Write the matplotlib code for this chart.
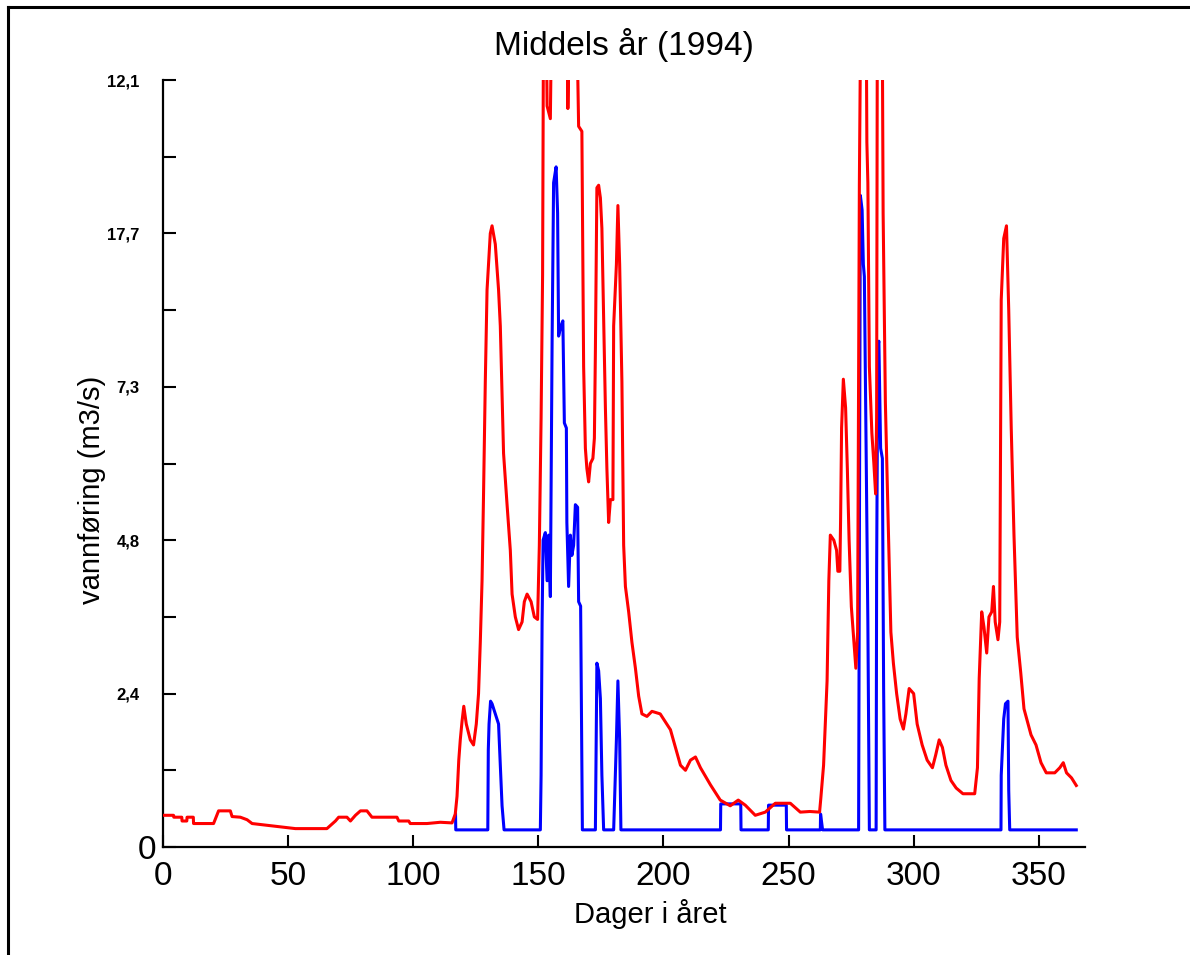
import matplotlib
matplotlib.use("Agg")
import matplotlib.pyplot as plt
from matplotlib import font_manager
from matplotlib.lines import Line2D
from matplotlib.transforms import ScaledTranslation

# daily discharge (m3/s)
red_days = [0, 4.2, 4.3, 7.5, 7.6, 9.5, 9.6, 12.1, 12.2, 20.2, 21.0, 22.2, 26.9, 27.6, 30.9, 33.6, 35.6,
            44.2, 52.9, 65.5, 68.9, 70.2, 73.5, 74.9, 76.9, 78.9, 81.5, 82.9, 83.5, 93.5, 94.2, 98.2,
            98.8, 105.5, 110.8, 115.5, 116.8, 117.5, 118.2, 118.8, 119.5, 120.2, 121.2, 122.8, 124.1,
            125.2, 126.1, 126.8, 127.5, 128.1, 128.8, 129.5, 130.1, 130.8, 131.5, 132.8, 134.1, 134.8,
            136.1, 137.5, 138.8, 139.5, 140.8, 142.1, 143.5, 144.4, 145.5, 147.1, 148.4, 149.7, 150.4,
            151.1, 151.7, 152.1, 153.2, 153.5, 154.8, 155.5, 158.0, 161.4, 161.8, 162.8, 165.4, 166.1,
            167.4, 168.1, 168.8, 169.4, 170.1, 170.8, 171.8, 172.4, 172.8, 173.4, 174.1, 174.8, 175.4,
            176.1, 176.8, 177.4, 178.1, 178.8, 179.8, 180.1, 181.2, 181.8, 182.5, 183.4, 184.1, 184.8,
            186.1, 187.4, 188.8, 190.1, 191.4, 193.4, 195.4, 198.7, 202.8, 206.8, 208.8, 210.8, 212.8,
            214.8, 218.8, 222.7, 226.7, 229.9, 232.7, 236.7, 240.7, 244.7, 250.7, 254.7, 258.5, 262.4,
            262.9, 264.0, 265.4, 266.1, 266.7, 268.1, 269.2, 269.7, 270.5, 270.8, 271.2, 271.9, 272.8,
            273.5, 274.2, 275.1, 276.0, 276.9, 277.6, 278.3, 279.0, 281.0, 281.3, 281.7, 282.3, 283.3,
            284.1, 284.8, 285.2, 285.5, 287.4, 287.8, 288.7, 289.8, 290.9, 291.9, 293.2, 294.6, 295.9,
            296.9, 298.2, 300.0, 301.4, 303.4, 305.4, 307.5, 308.8, 310.2, 311.5, 312.9, 314.9, 317.0,
            319.7, 324.4, 325.5, 326.2, 327.2, 328.1, 329.2, 330.1, 331.2, 331.9, 332.6, 333.7, 334.4,
            335.0, 336.0, 337.1, 338.0, 339.0, 340.1, 341.4, 342.8, 344.1, 346.9, 348.9, 350.9, 353.0,
            356.4, 358.4, 359.8, 361.1, 363.1, 365.0]
red_flow = [0.50, 0.50, 0.47, 0.47, 0.41, 0.41, 0.47, 0.47, 0.37, 0.37, 0.45, 0.57, 0.57, 0.48, 0.47, 0.43, 0.37,
            0.33, 0.29, 0.29, 0.41, 0.47, 0.47, 0.41, 0.50, 0.57, 0.57, 0.50, 0.47, 0.47, 0.41, 0.41,
            0.37, 0.37, 0.39, 0.38, 0.52, 0.80, 1.37, 1.69, 1.98, 2.22, 1.94, 1.69, 1.61,
            1.94, 2.42, 3.23, 4.20, 5.57, 7.34, 8.79, 9.19, 9.68, 9.80, 9.51, 8.79, 8.22,
            6.21, 5.40, 4.68, 3.99, 3.63, 3.43, 3.55, 3.87, 3.99, 3.87, 3.63, 3.59, 4.76,
            6.77, 9.03, 13.5, 13.0, 11.69, 11.49, 13.8, 14.5, 13.2, 11.65, 13.6, 13.0, 11.37,
            11.29, 7.58, 6.29, 5.97, 5.76, 6.05, 6.13, 6.45, 7.82, 10.40, 10.44, 10.24, 9.76,
            8.38, 6.93, 5.97, 5.12, 5.48, 5.48, 8.22, 9.19, 10.12, 9.19, 7.34, 4.76, 4.11,
            3.71, 3.23, 2.82, 2.38, 2.10, 2.06, 2.14, 2.10, 1.85, 1.29, 1.21, 1.37, 1.42,
            1.25, 0.98, 0.74, 0.65, 0.74, 0.66, 0.50, 0.55, 0.69, 0.69, 0.55, 0.56, 0.55,
            0.77, 1.29, 2.62, 4.20, 4.92, 4.84, 4.68, 4.35, 4.35, 5.16, 6.61, 7.38, 6.93,
            5.97, 4.84, 3.79, 3.31, 2.82, 3.39, 10.44, 14.0, 13.5, 11.12, 10.48, 7.58, 6.53,
            6.05, 5.57, 6.77, 13.5, 13.5, 10.0, 7.01, 5.16, 3.39, 2.90, 2.42, 2.02, 1.86,
            2.10, 2.50, 2.42, 1.94, 1.61, 1.37, 1.25, 1.45, 1.69, 1.57, 1.29, 1.05, 0.93,
            0.84, 0.84, 1.25, 2.66, 3.71, 3.47, 3.06, 3.63, 3.71, 4.11, 3.55, 3.27, 3.55,
            8.63, 9.60, 9.80, 8.47, 6.61, 4.92, 3.31, 2.75, 2.18, 1.77, 1.61, 1.33, 1.17,
            1.17, 1.25, 1.33, 1.17, 1.09, 0.97]

blue_days = [116.9, 117.0, 129.8, 130.0, 130.3, 130.9, 131.5, 132.8, 134.1, 134.8, 135.5, 136.3,
             150.8, 151.1, 151.5, 151.9, 152.8, 153.5, 154.1, 154.8, 155.5, 156.1, 157.1, 157.7,
             158.1, 159.0, 159.8, 160.4, 161.2, 161.4, 162.1, 162.8, 163.4, 164.1, 164.8, 165.7,
             166.1, 166.9, 167.6, 172.8, 173.4, 174.1, 174.8, 175.4, 176.1, 180.1, 180.4, 181.2,
             181.8, 182.5, 183.0, 222.8, 222.9, 230.9, 231.0, 241.9, 242.0, 249.1, 249.2, 262.7,
             262.8, 263.6, 278.0, 278.7, 279.4, 279.9, 280.3, 281.0, 281.7, 282.3, 285.0, 285.2,
             285.7, 286.1, 286.8, 287.5, 288.0, 288.5, 334.9, 335.0, 336.0, 336.7, 337.7, 338.0,
             338.4, 365.0]
blue_flow = [0.52, 0.27, 0.27, 1.53, 1.94, 2.30, 2.26, 2.10, 1.94, 1.29, 0.65, 0.27,
             0.27, 1.13, 3.55, 4.84, 4.96, 4.20, 4.92, 3.95, 7.98, 10.48, 10.73, 10.0,
             8.06, 8.22, 8.30, 6.69, 6.61, 5.12, 4.11, 4.92, 4.60, 4.76, 5.40, 5.36,
             3.87, 3.80, 0.27, 0.27, 2.90, 2.78, 2.34, 1.13, 0.27, 0.27, 0.65, 1.69,
             2.62, 1.69, 0.27, 0.27, 0.68, 0.68, 0.27, 0.27, 0.66, 0.66, 0.27, 0.27,
             0.52, 0.27, 0.27, 10.28, 10.05, 9.19, 9.0, 6.29, 3.55, 0.27, 0.27, 4.35,
             7.90, 7.98, 6.29, 6.13, 2.50, 0.27, 0.27, 1.13, 2.02, 2.26, 2.30, 0.89,
             0.27, 0.27]

y_ticks = [0, 2.42, 4.84, 7.26, 9.68, 12.1]
y_labels = ["0", "2,4", "4,8", "7,3", "17,7", "12,1"]
x_ticks = [0, 50, 100, 150, 200, 250, 300, 350]

names = {f.name for f in font_manager.fontManager.ttflist}
if "Liberation Sans Narrow" in names:
    big_font = {"family": "Liberation Sans Narrow", "size": 27}
else:
    big_font = {"family": "Liberation Sans", "size": 24}
plt.rcParams["font.family"] = ["Liberation Sans", "DejaVu Sans"]

fig = plt.figure(figsize=(11.9, 9.55), dpi=100)
ax = fig.add_axes([0.137, 0.1131, 0.7748, 0.8031])

ax.plot(blue_days, blue_flow, color="#0000ff", linewidth=2.2, zorder=2)
ax.plot(red_days, red_flow, color="#ff0000", linewidth=2.2, zorder=3)

ax.set_xlim(0, 368.5)
ax.set_ylim(0, 12.1)

ax.spines["top"].set_visible(False)
ax.spines["right"].set_visible(False)
ax.spines["left"].set_linewidth(1.6)
ax.spines["bottom"].set_linewidth(1.6)

ax.set_xticks(x_ticks)
ax.set_xticklabels([str(v) for v in x_ticks], fontdict=big_font)
ax.set_yticks(y_ticks)
ax.set_yticklabels(y_labels, fontsize=12, fontweight="bold")
ax.set_yticks([(a + b) / 2 for a, b in zip(y_ticks[:-1], y_ticks[1:])], minor=True)

ax.tick_params(axis="y", which="both", direction="in", length=9, width=1.5, pad=17)
ax.tick_params(axis="x", which="major", direction="in", length=9, width=1.5, pad=10)

# the zero on the y axis is drawn in the large font, closer to the axis
zero = ax.yaxis.get_major_ticks()[0].label1
zero.set_fontfamily(big_font["family"])
zero.set_fontsize(big_font["size"])
zero.set_fontweight("normal")
zero.set_transform(zero.get_transform() + ScaledTranslation(12 / 72, 0, fig.dpi_scale_trans))

ax.set_title("Middels år (1994)", fontsize=24, pad=18)
ax.set_xlabel("Dager i året", fontsize=21)
ax.xaxis.set_label_coords(0.528, -0.068)
ax.set_ylabel("vannføring (m3/s)", fontsize=21)
ax.yaxis.set_label_coords(-0.062, 0.465)

# frame lines along the top and left edge of the picture
fig.add_artist(Line2D([8 / 1190, 8 / 1190], [0, 1 - 7 / 955], transform=fig.transFigure,
                      color="black", linewidth=2.2))
fig.add_artist(Line2D([8 / 1190, 1], [1 - 7 / 955, 1 - 7 / 955], transform=fig.transFigure,
                      color="black", linewidth=2.2))

fig.savefig("out.png", dpi=100)
